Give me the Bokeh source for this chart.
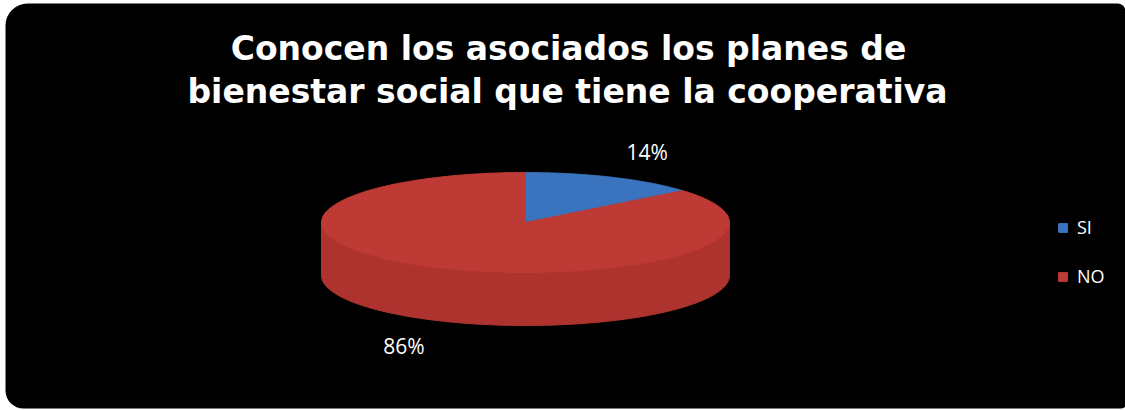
import numpy as np
from bokeh.plotting import figure
from bokeh.models import Range1d, BoxAnnotation, Legend, LegendItem
from bokeh.core.properties import value
from bokeh.embed import file_html
from bokeh.resources import INLINE

# ---- data ----
title_lines = ["Conocen los asociados los planes de",
               "bienestar social que tiene la cooperativa"]
categories = ["SI", "NO"]
percents = [14, 86]
top_colors = ["#3b74be", "#be3a34"]
side_colors = ["#2f5f9e", "#ae332e"]

W, H = 1125, 410
p = figure(width=W, height=H, output_backend="svg", toolbar_location=None,
           x_range=Range1d(0, W), y_range=Range1d(0, H), min_border=0)
p.axis.visible = False
p.grid.visible = False
p.outline_line_color = None
p.background_fill_color = "white"
p.border_fill_color = "white"

bg = BoxAnnotation(left=5, right=1125, bottom=2, top=407, fill_color="black", fill_alpha=1,
                   line_color=None, level="underlay",
                   border_radius=dict(top_left=22, top_right=8, bottom_right=4, bottom_left=18))
p.add_layout(bg)

# ---- title ----
p.text(x=[568, 567], y=[H - 48, H - 91], text=title_lines,
       text_color="white", text_font=value("DejaVu Sans"), text_font_style="bold",
       text_font_size="33px", text_align="center", text_baseline="middle")

# ---- 3D pie ----
cx, cy, a, b, depth = 525, 188, 204, 50, 53
vals = np.array(percents, dtype=float)
fr = vals / vals.sum()
ends = np.cumsum(fr) * 2 * np.pi
starts = ends - fr * 2 * np.pi

def pt(t, dy=0.0):
    return cx + a * np.sin(t), cy + b * np.cos(t) - dy

# sides (front half: theta in [pi/2, 3pi/2])
for s, e, col in zip(starts, ends, side_colors):
    lo, hi = max(s, np.pi / 2), min(e, 3 * np.pi / 2)
    if hi <= lo:
        continue
    t = np.linspace(lo, hi, 120)
    xt, yt = pt(t)
    xb, yb = pt(t[::-1], depth)
    p.patch(np.concatenate([xt, xb]), np.concatenate([yt, yb]),
            fill_color=col, line_color=col, line_width=1)

# top faces
renderers = []
for s, e, col in zip(starts, ends, top_colors):
    t = np.linspace(s, e, 200)
    xs, ys = pt(t)
    r = p.patch(np.concatenate([[cx], xs]), np.concatenate([[cy], ys]),
                fill_color=col, line_color=col, line_width=1)
    renderers.append(r)

# labels
mids = (starts + ends) / 2
lx = cx + a * 1.4 * np.sin(mids)
ly = cy + b * 1.55 * np.cos(mids) - np.where(np.cos(mids) < 0, depth, 0)
p.text(x=lx, y=ly, text=[f"{v}%" for v in percents], text_color="white",
       text_font=value("Open Sans"), text_font_size="21px",
       text_align="center", text_baseline="middle")

legend = Legend(items=[LegendItem(label=c, renderers=[r]) for c, r in zip(categories, renderers)],
                location=(1057, 122), orientation="vertical",
                glyph_width=11, glyph_height=11, label_standoff=9,
                label_text_color="white", label_text_font="Open Sans",
                label_text_font_size="18px", label_height=20, spacing=25,
                padding=0, margin=0, background_fill_alpha=0, border_line_alpha=0)
p.add_layout(legend, "center")

open("out.html", "w").write(file_html(p, INLINE))
